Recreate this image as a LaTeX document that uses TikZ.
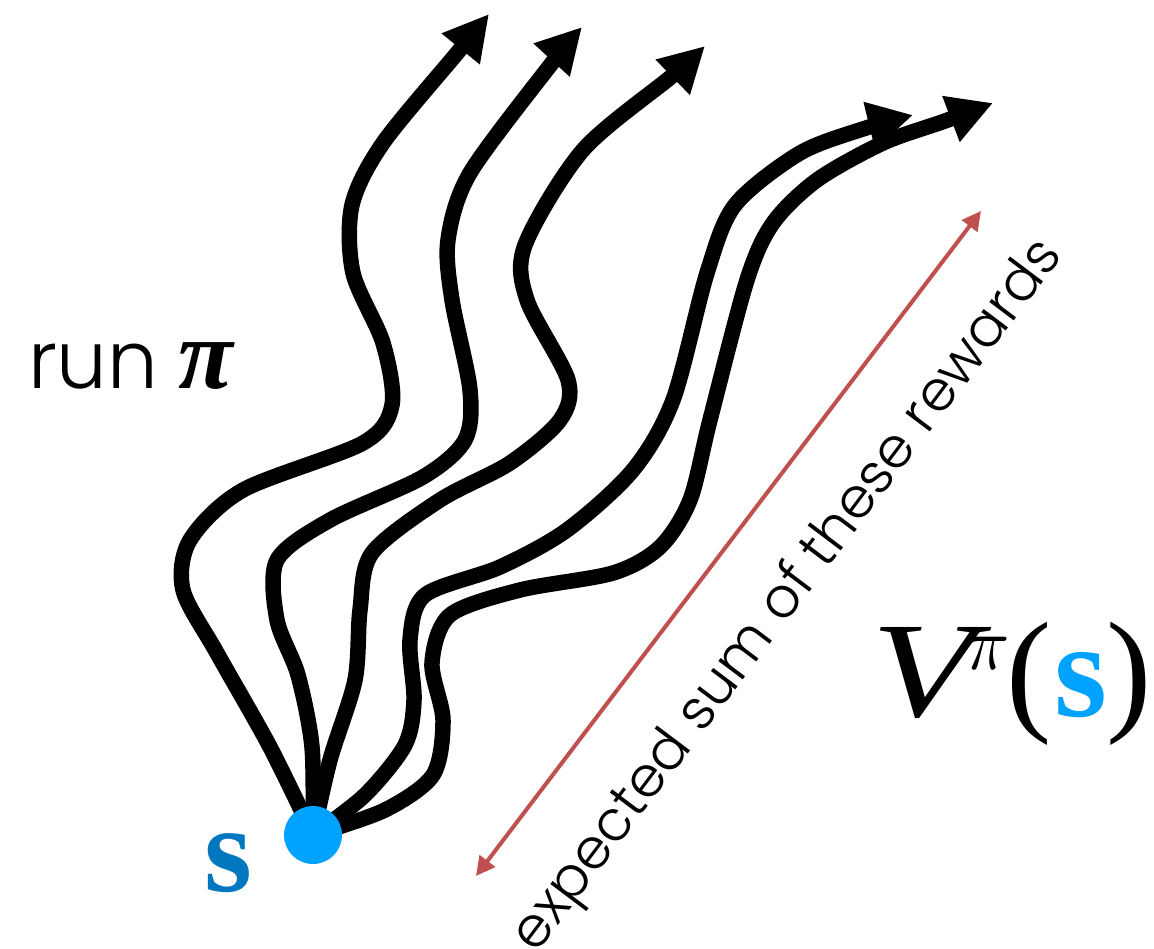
\documentclass[tikz,border=0pt]{standalone}
\usepackage{fontspec}
\setmainfont{Liberation Serif}
\newfontfamily\thinfont{Poppins Light}
\newfontfamily\serifit{Liberation Serif Italic}
\usetikzlibrary{arrows.meta}
\definecolor{dotblue}{RGB}{0,162,255}
\definecolor{labelblue}{RGB}{0,119,190}
\definecolor{rewardred}{RGB}{192,80,77}
\pgfdeclarelayer{bg}
\pgfsetlayers{bg,main}
\tikzset{
  traj/.style={line width=15.5pt, line join=round, -{Triangle[length=45pt,width=46pt]}},
  rewardline/.style={rewardred, line width=4pt, {Triangle[length=19pt,width=19pt]}-{Triangle[length=19pt,width=19pt]}},
  txt/.style={anchor=base west, inner sep=0pt, outer sep=0pt},
}
\begin{document}
\begin{tikzpicture}[x=1pt,y=-1pt]
\useasboundingbox (0,0) rectangle (1154,948);
% start state
\node[circle, fill=dotblue, minimum size=58pt, inner sep=0pt] (dot) at (313,835) {};
% trajectory ends
\coordinate (e1) at (489,14);
\coordinate (e2) at (582,27);
\coordinate (e3) at (705,46);
\coordinate (e4) at (913,115);
\coordinate (e5) at (993,103);
\begin{pgfonlayer}{bg}
\draw[traj] plot[smooth] coordinates {(dot.center) (270,747) (217,653) (183,590) (190,540) (243,490) (363,443) (392,405) (383,343) (353,273) (352,205) (383,143) (458,52) (e1)};
\draw[traj] plot[smooth] coordinates {(dot.center) (312,747) (298,675) (277,620) (277,560) (330,520) (423,477) (465,440) (470,390) (452,300) (448,240) (470,173) (552,63) (e2)};
\draw[traj] plot[smooth] coordinates {(dot.center) (330,760) (355,680) (360,610) (372,553) (440,500) (510,463) (560,420) (568,380) (527,300) (525,245) (583,150) (672,76) (e3)};
\draw[traj] plot[smooth] coordinates {(dot.center) (365,795) (405,745) (414,700) (410,640) (425,595) (500,567) (567,530) (633,470) (673,400) (707,273) (735,205) (800,153) (866,128) (e4)};
\draw[traj] plot[smooth] coordinates {(dot.center) (385,810) (433,775) (443,720) (432,663) (450,615) (520,590) (613,573) (660,547) (690,500) (710,420) (747,280) (773,223) (817,180) (883,143) (945,121) (e5)};
\end{pgfonlayer}
% labels
\node[txt, font=\bfseries\fontsize{123}{123}\selectfont, text=labelblue] (slabel) at (204,891) {s};
\node[txt, font=\thinfont\fontsize{80}{80}\selectfont] (run) at (28,388) {run};
\node[txt, font=\bfseries\itshape\fontsize{100}{100}\selectfont] (pi) at (178,388) {π};
% reward arrow
\coordinate (ra) at (476,876);
\coordinate (rb) at (981,211);
\draw[rewardline] (ra) -- (rb);
\node[anchor=base, inner sep=0pt, rotate=53, font=\thinfont\fontsize{56}{56}\selectfont] (expsum) at (800,605) {expected sum of these rewards};
% value function
\node[txt] (vV) at (871,716) {\scalebox{1.25}[1]{\serifit\fontsize{136}{136}\selectfont V}};
\node[txt] (vpi) at (964,669) {\scalebox{7.5}{$\pi$}};
\node[txt, font=\fontsize{136}{136}\selectfont] (vlp) at (1006,716) {(};
\node[txt, font=\bfseries\fontsize{136}{136}\selectfont, text=dotblue] (vs) at (1054,716) {s};
\node[txt, font=\fontsize{136}{136}\selectfont] (vrp) at (1106,716) {)};
\end{tikzpicture}
\end{document}
